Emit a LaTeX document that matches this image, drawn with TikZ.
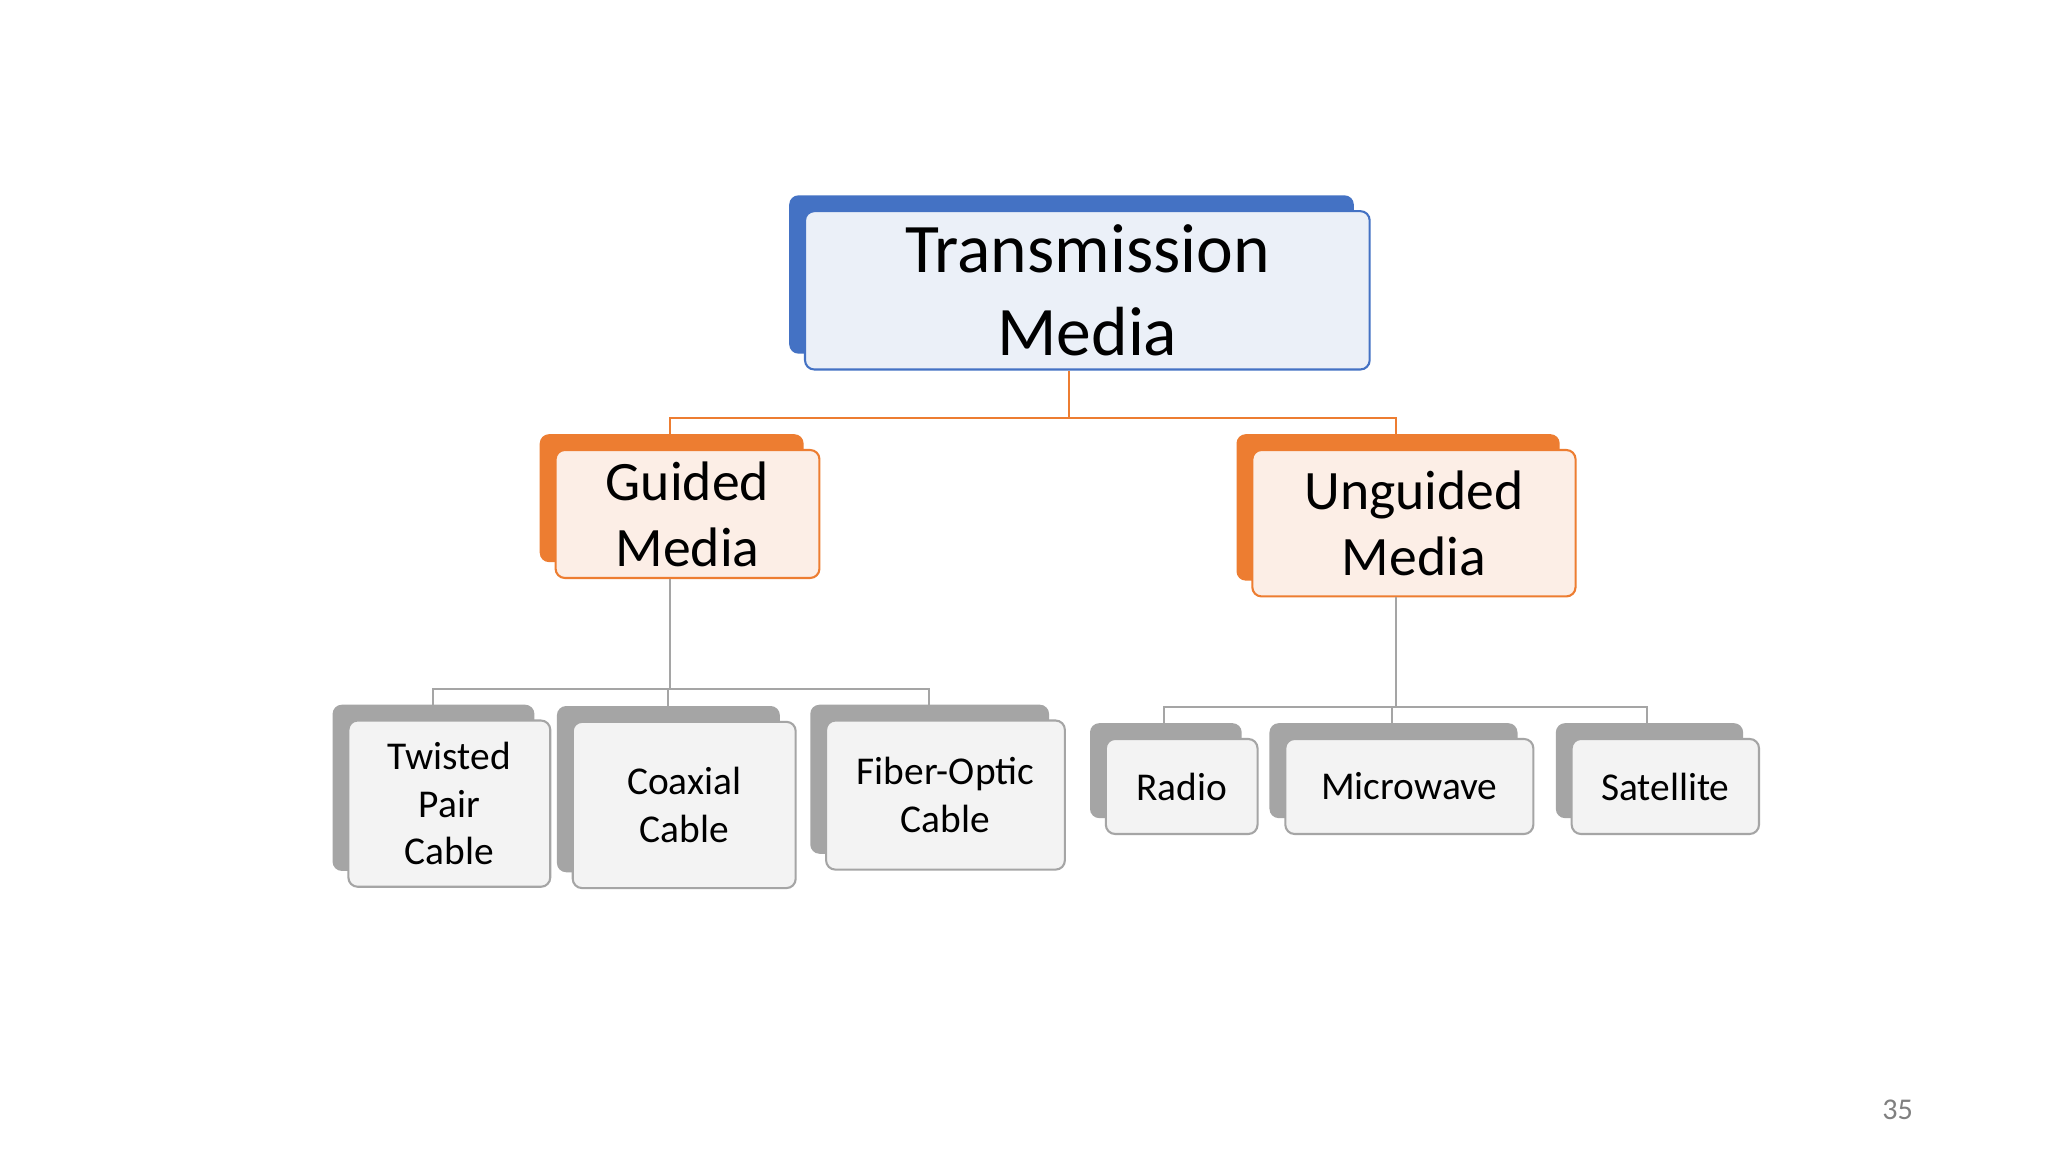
\documentclass[tikz,border=0pt]{standalone}
\usepackage{fontspec}
\setmainfont{Carlito}
\definecolor{cblue}{HTML}{4472C4}
\definecolor{lblue}{HTML}{EBF0F8}
\definecolor{corange}{HTML}{ED7D31}
\definecolor{lorange}{HTML}{FCEEE6}
\definecolor{cgray}{HTML}{A5A5A5}
\definecolor{lgray}{HTML}{F3F3F3}
\tikzset{
 bx/.style={rounded corners=4pt,inner sep=0pt,align=center,text=black},
 topf/.style={bx,draw=cblue,fill=lblue,line width=0.9pt,font=\fontsize{30}{36}\selectfont},
 topb/.style={bx,fill=cblue},
 midf/.style={bx,draw=corange,fill=lorange,line width=0.9pt,font=\fontsize{24}{28.5}\selectfont},
 midb/.style={bx,fill=corange},
 lowf/.style={bx,draw=cgray,fill=lgray,line width=0.9pt,font=\fontsize{17}{20.5}\selectfont},
 lowb/.style={bx,fill=cgray},
 oline/.style={corange,line width=0.8pt},
 gline/.style={cgray,line width=0.8pt},
}
\begin{document}
\begin{tikzpicture}[x=0.02cm,y=-0.02cm]
\useasboundingbox[fill=white] (0,0) rectangle (1552,873);
% backs
\node[topb,minimum width=8.56cm,minimum height=2.4cm,xshift=-0.24cm,yshift=0.24cm] at (824,220) {};
\node[midb,minimum width=4cm,minimum height=1.94cm,xshift=-0.24cm,yshift=0.24cm] at (521,389.5) {};
\node[midb,minimum width=4.9cm,minimum height=2.22cm,xshift=-0.24cm,yshift=0.24cm] at (1071.5,396.5) {};
\node[lowb,minimum width=3.06cm,minimum height=2.52cm,xshift=-0.24cm,yshift=0.24cm] at (340.5,609) {};
\node[lowb,minimum width=3.38cm,minimum height=2.52cm,xshift=-0.24cm,yshift=0.24cm] at (518.5,610) {};
\node[lowb,minimum width=3.62cm,minimum height=2.26cm,xshift=-0.24cm,yshift=0.24cm] at (716.5,602.5) {};
\node[lowb,minimum width=2.3cm,minimum height=1.44cm,xshift=-0.24cm,yshift=0.24cm] at (895.5,596) {};
\node[lowb,minimum width=3.76cm,minimum height=1.44cm,xshift=-0.24cm,yshift=0.24cm] at (1068,596) {};
\node[lowb,minimum width=2.84cm,minimum height=1.44cm,xshift=-0.24cm,yshift=0.24cm] at (1262,596) {};
% fronts
\node[topf,minimum width=8.56cm,minimum height=2.4cm] (tm) at (824,220) {Transmission\\Media};
\node[midf,minimum width=4cm,minimum height=1.94cm] (gm) at (521,389.5) {Guided\\Media};
\node[midf,minimum width=4.9cm,minimum height=2.22cm] (um) at (1071.5,396.5) {Unguided\\Media};
\node[lowf,minimum width=3.06cm,minimum height=2.52cm] (tp) at (340.5,609) {Twisted\\Pair\\Cable};
\node[lowf,minimum width=3.38cm,minimum height=2.52cm] (cc) at (518.5,610) {Coaxial\\Cable};
\node[lowf,minimum width=3.62cm,minimum height=2.26cm] (fo) at (716.5,602.5) {Fiber-Optic\\Cable};
\node[lowf,minimum width=2.3cm,minimum height=1.44cm] (ra) at (895.5,596) {Radio};
\node[lowf,minimum width=3.76cm,minimum height=1.44cm] (mw) at (1068,596) {Microwave};
\node[lowf,minimum width=2.84cm,minimum height=1.44cm] (sa) at (1262,596) {Satellite};
% connectors
\coordinate (t1) at (810,317);
\coordinate (g1) at (508,317); \coordinate (g2) at (508,329);
\coordinate (u1) at (1058,317); \coordinate (u2) at (1058,329);
\draw[oline] (tm.south -| t1) -- (t1);
\draw[oline] (g2) -- (g1) -- (u1) -- (u2);
\coordinate (gb) at (508,522);
\draw[gline] (gm.south -| gb) -- (gb);
\draw[gline] (328,534) -- (328,522) -- (704,522) -- (704,534);
\draw[gline] (506,522) -- (506,535);
\coordinate (ub) at (1058,536);
\draw[gline] (um.south -| ub) -- (ub);
\draw[gline] (882,548) -- (882,536) -- (1248,536) -- (1248,548);
\draw[gline] (1055,536) -- (1055,548);
\node[text=gray,font=\fontsize{13}{15}\selectfont] (pn) at (1438,841) {35};
\end{tikzpicture}
\end{document}
